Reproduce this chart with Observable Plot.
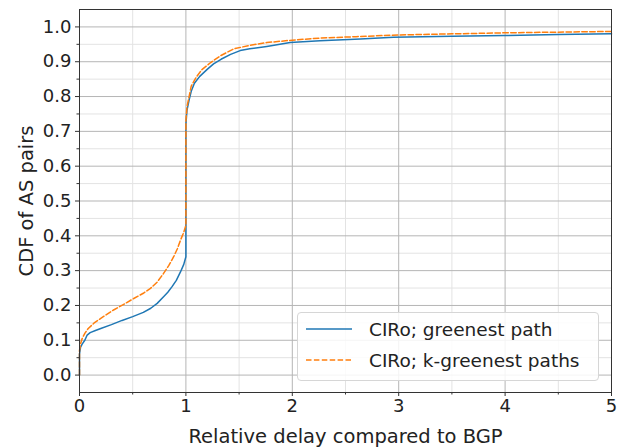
<!DOCTYPE html>
<html>
<head>
<meta charset="utf-8">
<script src="https://cdn.jsdelivr.net/npm/d3@7"></script>
<script src="https://cdn.jsdelivr.net/npm/@observablehq/plot@0.6"></script>
<style>
  body { margin: 0; background: #fff; }
  #wrap { position: relative; width: 621px; height: 448px; font-family: "DejaVu Sans", sans-serif; }
  #legend { position: absolute; left: 297px; top: 312px; width: 302px; height: 69px;
    border: 1px solid #d6d6d6; border-radius: 4px; background: rgba(255,255,255,0.85);
    box-sizing: border-box; font-size: 18.5px; color: #222; }
  .row { position: absolute; left: 7px; display: flex; align-items: center; }
  .row svg { margin-right: 16px; }
</style>
</head>
<body>
<div id="wrap"></div>
<script>
// Series data
const seriesNames = ["CIRo; greenest path", "CIRo; k-greenest paths"];
const seriesColors = ["#1f77b4", "#ff7f0e"];

const xGreenest = [0,0,0.01,0.025,0.05,0.072,0.1,0.15,0.2,0.3,0.4,0.5,0.6,0.67,0.73,0.79,0.83,0.87,0.91,0.95,0.98,1.0,1.0,1.01,1.03,1.05,1.08,1.13,1.2,1.26,1.33,1.42,1.51,1.6,1.76,1.98,2.26,2.64,2.95,3.5,4.0,4.5,5.0];
const yGreenest = [0,0.06,0.08,0.089,0.1,0.115,0.122,0.128,0.134,0.145,0.157,0.168,0.18,0.192,0.206,0.225,0.238,0.254,0.272,0.297,0.318,0.34,0.72,0.76,0.79,0.815,0.838,0.858,0.878,0.894,0.907,0.921,0.932,0.937,0.944,0.955,0.96,0.965,0.97,0.973,0.975,0.978,0.98];

const xKGreenest = [0,0,0.01,0.025,0.05,0.08,0.135,0.2,0.32,0.42,0.51,0.6,0.667,0.73,0.79,0.84,0.885,0.92,0.95,0.98,1.0,1.0,1.01,1.03,1.05,1.1,1.15,1.23,1.33,1.45,1.6,1.76,2.0,2.26,2.6,3.0,3.5,4.0,4.5,5.0];
const yKGreenest = [0,0.07,0.09,0.105,0.12,0.133,0.149,0.163,0.187,0.204,0.22,0.235,0.249,0.267,0.292,0.315,0.34,0.363,0.388,0.41,0.43,0.73,0.77,0.8,0.83,0.857,0.877,0.897,0.918,0.937,0.947,0.955,0.962,0.968,0.972,0.977,0.98,0.983,0.985,0.987];

// Ticks
const xMajor = [0,1,2,3,4,5];
const xMinor = [0.5,1.5,2.5,3.5,4.5];
const yMajor = [0,0.1,0.2,0.3,0.4,0.5,0.6,0.7,0.8,0.9,1.0];
const yMinor = [-0.05,0.05,0.15,0.25,0.35,0.45,0.55,0.65,0.75,0.85,0.95,1.05];

const dataG = xGreenest.map((x, i) => ({x, y: yGreenest[i]}));
const dataK = xKGreenest.map((x, i) => ({x, y: yKGreenest[i]}));

const fs = 18;
const chart = Plot.plot({
  width: 621, height: 448,
  marginLeft: 79, marginRight: 10, marginTop: 9, marginBottom: 56,
  style: {fontFamily: "DejaVu Sans, sans-serif", fontSize: fs + "px", color: "#222", background: "#fff"},
  x: {domain: [0, 5]},
  y: {domain: [-0.05, 1.05]},
  marks: [
    Plot.gridX(xMinor, {stroke: "#e3e3e3", strokeOpacity: 1, strokeWidth: 1}),
    Plot.gridY(yMinor, {stroke: "#e3e3e3", strokeOpacity: 1, strokeWidth: 1}),
    Plot.gridX(xMajor, {stroke: "#b5b5b5", strokeOpacity: 1, strokeWidth: 1}),
    Plot.gridY(yMajor, {stroke: "#b5b5b5", strokeOpacity: 1, strokeWidth: 1}),
    Plot.line(dataG, {x: "x", y: "y", stroke: seriesColors[0], strokeWidth: 1.5, curve: "linear"}),
    Plot.line(dataK, {x: "x", y: "y", stroke: seriesColors[1], strokeWidth: 1.5, strokeDasharray: "5.5,2.4", curve: "linear"}),
    Plot.axisX(xMinor, {tickSize: 2.5, tickFormat: () => "", label: null, stroke: "#333"}),
    Plot.axisY(yMinor.filter(v => v > -0.05 && v < 1.05), {tickSize: 2.5, tickFormat: () => "", label: null, stroke: "#333"}),
    Plot.axisX(xMajor, {tickSize: 4, tickPadding: 3, tickFormat: d3.format("d"), fontSize: fs,
      label: "Relative delay compared to BGP", labelAnchor: "center", labelArrow: "none", labelOffset: 50, stroke: "#333"}),
    Plot.axisY(yMajor, {tickSize: 4, tickPadding: 4, tickFormat: d3.format(".1f"), fontSize: fs,
      label: "CDF of AS pairs", labelAnchor: "center", labelArrow: "none", labelOffset: 60, stroke: "#333"}),
    Plot.frame({stroke: "#333", strokeWidth: 1})
  ]
});
const wrap = document.getElementById("wrap");
wrap.appendChild(chart);
// Enlarge the axis titles slightly relative to tick labels
chart.querySelectorAll("g[aria-label='x-axis label'] text, g[aria-label='y-axis label'] text").forEach(t => t.setAttribute("font-size", "19.5"));

// Legend
const legend = document.createElement("div");
legend.id = "legend";
seriesNames.forEach((name, i) => {
  const row = document.createElement("div");
  row.className = "row";
  row.style.top = (i === 0 ? 4 : 35) + "px";
  row.innerHTML = `<svg width="48" height="24"><line x1="1" y1="12" x2="47" y2="12" stroke="${seriesColors[i]}" stroke-width="1.5" ${i === 1 ? 'stroke-dasharray="5.5,2.4"' : ''}/></svg><span>${name}</span>`;
  legend.appendChild(row);
});
wrap.appendChild(legend);
</script>
</body>
</html>
